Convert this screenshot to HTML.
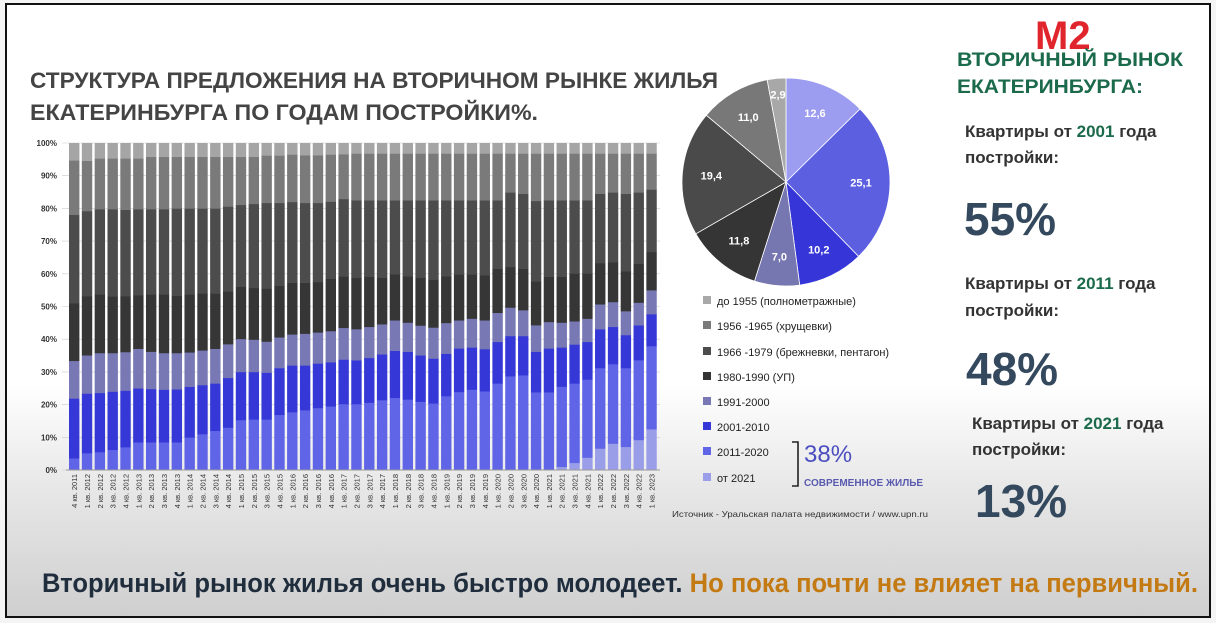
<!DOCTYPE html>
<html><head><meta charset="utf-8"><style>
html,body{margin:0;padding:0;width:1216px;height:623px;overflow:hidden;background:#fff}
svg{display:block}
</style></head><body>
<svg id="s" width="1216" height="623" xmlns="http://www.w3.org/2000/svg" font-family="Liberation Sans, DejaVu Sans, sans-serif">
<defs>
<linearGradient id="bg" x1="0" y1="0" x2="0" y2="1">
<stop offset="0" stop-color="#ffffff"/><stop offset="0.62" stop-color="#ffffff"/><stop offset="0.8" stop-color="#e6e6e6"/><stop offset="1" stop-color="#cfcfcf"/>
</linearGradient>
</defs>
<rect x="0" y="0" width="1216" height="623" fill="#f4f4f4"/>
<rect x="6" y="4" width="1204" height="613" fill="url(#bg)" stroke="#111" stroke-width="2"/>
<text x="30" y="88" font-size="22" font-weight="bold" fill="#444" textLength="688" lengthAdjust="spacingAndGlyphs">СТРУКТУРА ПРЕДЛОЖЕНИЯ НА ВТОРИЧНОМ РЫНКЕ ЖИЛЬЯ</text>
<text x="30" y="120" font-size="22" font-weight="bold" fill="#444" textLength="508" lengthAdjust="spacingAndGlyphs">ЕКАТЕРИНБУРГА ПО ГОДАМ ПОСТРОЙКИ%.</text>
<g id="bars"></g>
<g id="pie"></g>
<g font-size="11" fill="#222">
<rect x="703" y="296" width="8" height="8" fill="#a8a8a8"/><text x="717" y="305">до 1955 (полнометражные)</text>
<rect x="703" y="321" width="8" height="8" fill="#7a7a7a"/><text x="717" y="330">1956 -1965 (хрущевки)</text>
<rect x="703" y="347" width="8" height="8" fill="#4c4c4c"/><text x="717" y="356">1966 -1979 (брежневки, пентагон)</text>
<rect x="703" y="372" width="8" height="8" fill="#333"/><text x="717" y="381">1980-1990 (УП)</text>
<rect x="703" y="397" width="8" height="8" fill="#7878b4"/><text x="717" y="406">1991-2000</text>
<rect x="703" y="422" width="8" height="8" fill="#3538d6"/><text x="717" y="431">2001-2010</text>
<rect x="703" y="447" width="8" height="8" fill="#6064e6"/><text x="717" y="456">2011-2020</text>
<rect x="703" y="473" width="8" height="8" fill="#9a9ee8"/><text x="717" y="482">от 2021</text>
</g>
<path d="M792 442 H798 V486 H792" fill="none" stroke="#222" stroke-width="1.6"/>
<text x="804" y="462" font-size="24" fill="#4a4ec0">38%</text>
<text x="804" y="486" font-size="10" font-weight="bold" fill="#5a5ab0">СОВРЕМЕННОЕ ЖИЛЬЕ</text>
<text x="672" y="517" font-size="8.5" fill="#333" textLength="256" lengthAdjust="spacingAndGlyphs">Источник - Уральская палата недвижимости / www.upn.ru</text>
<text x="1035" y="49" font-size="40" font-weight="bold" fill="#e0262c">M2</text>
<text x="957" y="66" font-size="19" font-weight="bold" fill="#1b6a4b" textLength="226" lengthAdjust="spacingAndGlyphs">ВТОРИЧНЫЙ РЫНОК</text>
<text x="957" y="93" font-size="19" font-weight="bold" fill="#1b6a4b" textLength="186" lengthAdjust="spacingAndGlyphs">ЕКАТЕРИНБУРГА:</text>
<g font-size="17" font-weight="bold" fill="#333">
<text x="965" y="137">Квартиры от <tspan fill="#1b6a4b">2001</tspan> года</text>
<text x="965" y="163">постройки:</text>
<text x="965" y="289">Квартиры от <tspan fill="#1b6a4b">2011</tspan> года</text>
<text x="965" y="316">постройки:</text>
<text x="972" y="429">Квартиры от <tspan fill="#1b6a4b">2021</tspan> года</text>
<text x="972" y="455">постройки:</text>
</g>
<g font-size="46" font-weight="bold" fill="#34495e">
<text x="964" y="235">55%</text>
<text x="966" y="385">48%</text>
<text x="975" y="517">13%</text>
</g>
<text x="42" y="592" font-size="27" font-weight="bold" fill="#1f2d3d" textLength="1156" lengthAdjust="spacingAndGlyphs">Вторичный рынок жилья очень быстро молодеет. <tspan fill="#c47a12">Но пока почти не влияет на первичный.</tspan></text>
</svg>
<script>
var NS="http://www.w3.org/2000/svg";
function el(t,a,p){var e=document.createElementNS(NS,t);for(var k in a)e.setAttribute(k,a[k]);p.appendChild(e);return e;}
var L0=[],i;for(i=0;i<37;i++)L0.push(0);L0=L0.concat([0.2,1,2.2,3.8,6.6,8.1,7.1,9.2,12.5]);
var L1=[3.6,5.2,5.5,6.2,7,8.5,8.5,8.5,8.5,10,11,12,13,15.3,15.5,15.5,16.9,17.7,18.3,19,19.5,20.2,20.2,20.6,21.4,22.1,21.6,20.9,20.4,22.6,23.9,24.6,24.1,26.5,28.7,29,23.8,23.8,25.5,26.5,27.7,31.2,32.4,31.2,33.6,37.9];
var L2=[21.9,23.4,23.6,24,24.3,25,24.8,24.6,24.7,25.5,26,26.5,28.2,30,30,29.8,31.2,32,32,32.6,33,33.8,33.6,34.3,35.4,36.5,36.2,35.1,34.1,35.6,37.2,37.5,37,39.2,41,41,36.2,37.2,37.5,38.4,39.2,43.1,43.8,41.3,44.3,47.7];
var L3=[33.4,35.1,35.8,35.8,36.1,37.1,36.2,35.8,35.8,36,36.6,37.1,38.5,40.1,39.9,39.3,40.6,41.5,41.7,42.1,42.5,43.5,43.1,43.8,44.6,45.8,45.1,44.2,43.6,45,45.8,46.3,45.8,48.1,49.7,48.9,44.3,45.3,45.1,45.5,46.3,50.7,51.4,48.6,51.2,55];
var L4=[51,53.2,53.7,53.1,53.2,53.5,53.7,53.7,53.3,53.7,54,54,54.6,56.1,55.7,55.5,56.4,57.3,57.3,57.5,58.5,59.2,58.8,59.1,58.8,59.9,59.3,58.8,58.2,59.3,59.8,59.8,59.6,61.6,62.1,61.6,57.7,59.1,59.1,60.1,60.1,63.3,63.6,60.8,63.1,66.7];
var L5=[78.1,79.2,79.8,79.8,79.6,79.8,79.8,79.8,80,80,80,80,80.6,81.1,81.4,81.7,81.7,82,81.7,81.7,82.1,82.9];
for(i=0;i<12;i++)L5.push(82.5);L5=L5.concat([84.9,84.5,82.3,82.5,82.5,82.5,82.5,84.5,84.9,84.5,84.9,85.8]);
var L6=[94.7,94.6,95.3,95.3,95.3,95.3,95.8,95.8,95.8,95.8,95.8,95.8,95.8,95.8,95.8,96.2,96.2,96.5,96.3,96.3,96.5,96.6];
for(i=0;i<24;i++)L6.push(96.8);
var cols=["#9a9ee8","#6064e6","#3538d6","#7878b4","#363636","#4c4c4c","#7a7a7a","#a5a5a5"];
var g=document.getElementById("bars");
var y0=470,sc=3.27,x0=69,pitch=12.83,bw=10.4;
function Y(v){return y0-v*sc;}
for(var t=0;t<=10;t++){
 var yy=Y(t*10);
 el("line",{x1:62,x2:660,y1:yy,y2:yy,stroke:"#ccc","stroke-width":0.6},g);
 var tx=el("text",{x:57,y:yy+3,"font-size":8,"font-weight":"bold","text-anchor":"end",fill:"#333"},g);tx.textContent=(t*10)+"%";
}
var labs=["4 кв. 2011"];
for(var yr=2012;yr<=2022;yr++)for(var q=1;q<=4;q++)labs.push(q+" кв. "+yr);
labs.push("1 кв. 2023");
for(i=0;i<46;i++){
 var x=x0+i*pitch;
 var tops=[L0[i],L1[i],L2[i],L3[i],L4[i],L5[i],L6[i],100];
 var prev=0;
 for(var k=0;k<8;k++){
  var h=tops[k]-prev;
  if(h>0)el("rect",{x:x,y:Y(tops[k]),width:bw,height:h*sc+0.3,fill:cols[k]},g);
  prev=tops[k];
 }
 var cx=x+bw/2+3;
 var lt=el("text",{x:0,y:0,"font-size":7.5,"text-anchor":"end",fill:"#333",transform:"translate("+cx+",474) rotate(-90)"},g);
 lt.textContent=labs[i];
}
el("line",{x1:66,x2:660,y1:470,y2:470,stroke:"#999","stroke-width":1},g);
var p=document.getElementById("pie");
var vals=[12.6,25.1,10.2,7.0,11.8,19.4,11.0,2.9];
var pc=["#9c9cf0","#5c60e0","#3535d8","#7676b0","#353535","#4a4a4a","#787878","#a8a8a8"];
var pcx=786,pcy=182,r=104,a=-90;
for(i=0;i<8;i++){
 var a2=a+vals[i]*3.6;
 var r1=a*Math.PI/180,r2=a2*Math.PI/180;
 var d="M"+pcx+" "+pcy+" L"+(pcx+r*Math.cos(r1))+" "+(pcy+r*Math.sin(r1))+" A"+r+" "+r+" 0 "+((a2-a)>180?1:0)+" 1 "+(pcx+r*Math.cos(r2))+" "+(pcy+r*Math.sin(r2))+" Z";
 el("path",{d:d,fill:pc[i],stroke:"#fff","stroke-width":0.8},p);
 var am=(a+a2)/2*Math.PI/180,rr=(i==7?88:75);
 var lt2=el("text",{x:pcx+rr*Math.cos(am),y:pcy+rr*Math.sin(am)+4,"font-size":11,"font-weight":"bold","text-anchor":"middle",fill:"#fff"},p);
 lt2.textContent=vals[i].toFixed(1).replace(".",",");
 a=a2;
}
</script>
</body></html>
